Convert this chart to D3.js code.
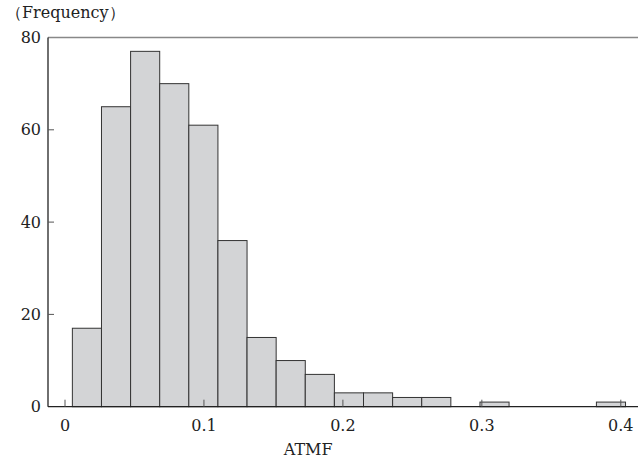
<!DOCTYPE html>
<html>
<head>
<meta charset="utf-8">
<script src="https://cdn.jsdelivr.net/npm/d3@7"></script>
<style>
  body { margin: 0; background: #fff; }
  svg text { font-family: "DejaVu Serif", serif; fill: #222; }
</style>
</head>
<body>
<svg id="chart" width="638" height="463"></svg>
<script>
// Histogram of ATMF: 19 equal bins between min and max
const atmfMin = 0.0053;
const atmfMax = 0.4034;
const counts = [17, 65, 77, 70, 61, 36, 15, 10, 7, 3, 3, 2, 2, 0, 1, 0, 0, 0, 1];
const xTicks = [0, 0.1, 0.2, 0.3, 0.4];
const yTicks = [0, 20, 40, 60, 80];

const svg = d3.select("#chart");
const plot = { left: 48, right: 638, top: 37.5, bottom: 406.7 };

const x = d3.scaleLinear().domain([0, 0.4]).range([65, 620.8]);
const y = d3.scaleLinear().domain([0, 80]).range([plot.bottom, plot.top]);

const binWidth = (atmfMax - atmfMin) / counts.length;
const bins = counts.map((c, i) => ({
  x0: atmfMin + i * binWidth,
  x1: atmfMin + (i + 1) * binWidth,
  count: c,
}));

// Bars
svg.append("g")
  .selectAll("rect")
  .data(bins.filter((d) => d.count > 0))
  .join("rect")
  .attr("x", (d) => x(d.x0))
  .attr("y", (d) => y(d.count))
  .attr("width", (d) => x(d.x1) - x(d.x0))
  .attr("height", (d) => y(0) - y(d.count))
  .attr("fill", "#d3d4d6")
  .attr("stroke", "#333")
  .attr("stroke-width", 1);

// Frame: top line (gray), left and bottom axis lines
svg.append("line")
  .attr("x1", plot.left).attr("x2", plot.right).attr("y1", plot.top).attr("y2", plot.top)
  .attr("stroke", "#888").attr("stroke-width", 1.5);
svg.append("line")
  .attr("x1", plot.left).attr("x2", plot.left).attr("y1", plot.top).attr("y2", plot.bottom)
  .attr("stroke", "#222").attr("stroke-width", 1.3);
svg.append("line")
  .attr("x1", plot.left).attr("x2", plot.right).attr("y1", plot.bottom).attr("y2", plot.bottom)
  .attr("stroke", "#222").attr("stroke-width", 1.3);

// X ticks (inward) and labels
const xg = svg.append("g");
xg.selectAll("line")
  .data(xTicks)
  .join("line")
  .attr("x1", (d) => x(d)).attr("x2", (d) => x(d))
  .attr("y1", plot.bottom).attr("y2", plot.bottom - 7)
  .attr("stroke", "#555").attr("stroke-width", 1);
xg.selectAll("text")
  .data(xTicks)
  .join("text")
  .attr("x", (d) => x(d))
  .attr("y", plot.bottom + 24)
  .attr("text-anchor", "middle")
  .style("font-size", "16px")
  .text((d) => (d === 0 ? "0" : d3.format(".1f")(d)));

// Y ticks (inward) and labels
const yg = svg.append("g");
yg.selectAll("line")
  .data(yTicks.filter((d) => d > 0 && d < 80))
  .join("line")
  .attr("x1", plot.left).attr("x2", plot.left + 6)
  .attr("y1", (d) => y(d)).attr("y2", (d) => y(d))
  .attr("stroke", "#555").attr("stroke-width", 1);
yg.selectAll("text")
  .data(yTicks)
  .join("text")
  .attr("x", plot.left - 7)
  .attr("y", (d) => y(d))
  .attr("dy", "0.35em")
  .attr("text-anchor", "end")
  .style("font-size", "16px")
  .text((d) => d);

// Axis titles
svg.append("text")
  .attr("x", 6)
  .attr("y", 18)
  .style("font-size", "16px")
  .text("（Frequency）");

svg.append("text")
  .attr("x", x(0.175))
  .attr("y", 455)
  .attr("text-anchor", "middle")
  .style("font-size", "16px")
  .text("ATMF");
</script>
</body>
</html>
